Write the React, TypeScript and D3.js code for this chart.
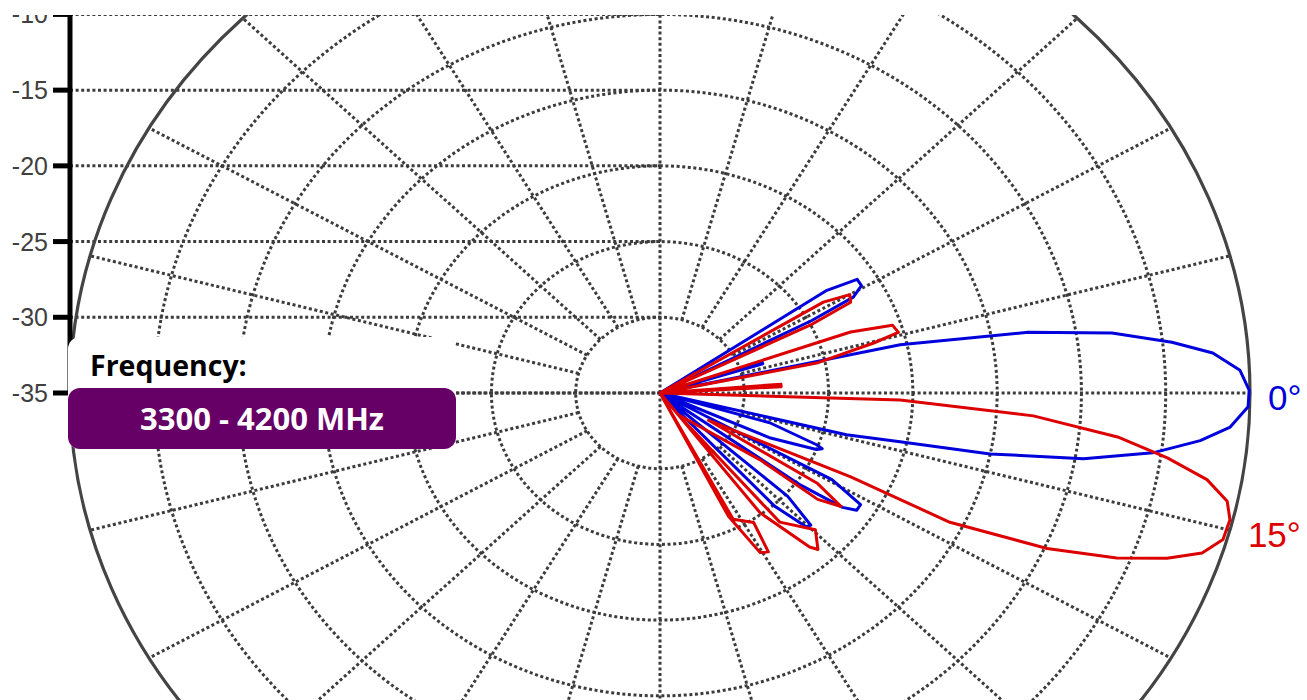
import React from "react";
import * as d3 from "d3";

// ---- data (angle in degrees, positive = below horizon; gain in dB) ----
const blueAngle = [-36, -34.4, -32.7, -30.7, -28.9, -28.0, -26, -18.4, -17.6, -16, -13.5, -12.6, -10.4, -8.4, -6.3, -4.6, -2.5, -0.3, 1.5, 3.8, 5.6, 7.7, 9.8, 11.6, 12.75, 14.0, 15.5, 16.8, 20.2, 20.9, 21.9, 24.4, 26, 29.3, 31.8, 33.6, 34.9, 36.1, 38, 42.0, 44.3, 45.5, 47.7, 50];
const blueDb = [-35, -23.0, -21.1, -21.1, -21.9, -24.8, -35, -28.6, -28.6, -35, -35, -20.4, -12.8, -7.9, -4.45, -2.1, -0.56, -0.05, -0.1, -1.1, -2.8, -5.5, -9.5, -15.0, -20.4, -23.6, -35, -28.2, -25.1, -24.7, -25.0, -27.8, -35, -23.3, -21.0, -21.0, -21.8, -24.7, -35, -24.8, -22.5, -22.6, -24.9, -35];

const redAngle = [-34, -31.75, -30.0, -27.9, -26.7, -25, -21, -19.6, -18.0, -15.8, -14.6, -12.0, -10, -4.6, -3.3, 0, 1.85, 3.9, 6.1, 8.1, 10.0, 12.0, 13.9, 16.15, 18.2, 19.95, 21.9, 24.1, 26.4, 26.1, 32.0, 32.6, 34.9, 36.9, 36.6, 53.0, 50.2, 44.4, 47.8, 48.9, 53.1, 55, 62.5, 57.0, 58.5, 60.6, 63.5, 66];
const redDb = [-35, -23.6, -22.0, -22.2, -25.0, -35, -35, -23.0, -20.5, -20.3, -21.9, -25.5, -35, -27.8, -27.8, -35, -20.75, -12.8, -7.7, -4.6, -2.05, -0.6, -0.17, -0.23, -1.15, -3.0, -5.8, -9.85, -15.8, -22.4, -31.6, -23.9, -21.9, -23.3, -27.6, -33.2, -23.9, -22.1, -21.05, -21.5, -25.1, -35, -25.6, -24.8, -22.7, -22.9, -25.9, -35];

const radialTicks = [-35, -30, -25, -20, -15, -10];
const ringLevels = [-30, -25, -20, -15, -10, -5];
const outerLevel = 0;
const series = [
  { name: "0°", angle: blueAngle, db: blueDb, color: "#0000dd" },
  { name: "15°", angle: redAngle, db: redDb, color: "#dd0000" },
];
const seriesLabels = [
  { text: "0°", color: "#0000dd", angle: 0 },
  { text: "15°", color: "#dd0000", angle: 15 },
];
const freqTitle = "Frequency:";
const freqValue = "3300 - 4200 MHz";

const W = 1307;
const H = 700;

export default function App() {
  const cx = 660;
  const cy = 393;
  const RX = 590;
  const RY = 530;
  const r = d3.scaleLinear().domain([-35, outerLevel]).range([0, 1]).clamp(true);
  const yAxis = d3.scaleLinear().domain([-35, outerLevel]).range([cy, cy - RY]);
  const rad = (deg: number) => (deg * Math.PI) / 180;
  const px = (deg: number, v: number) => cx + RX * r(v) * Math.cos(rad(deg));
  const py = (deg: number, v: number) => cy + RY * r(v) * Math.sin(rad(deg));

  const grid = "#3c3c3c";
  const dots = "3 2.6";
  const gw = 3;
  const spokes = d3.range(0, 360, 15);

  const line = d3
    .line<[number, number]>()
    .x((d) => px(d[0], d[1]))
    .y((d) => py(d[0], d[1]));

  const axisX = 70;

  return (
    <svg
      width={W}
      height={H}
      style={{ position: "absolute", left: 0, top: 0, background: "#fff" }}
    >
      <defs>
        <clipPath id="clipTop">
          <rect x={0} y={15} width={W} height={H} />
        </clipPath>
      </defs>
      <g clipPath="url(#clipTop)">
        {radialTicks.map((t) => (
          <line
            key={"h" + t}
            x1={axisX}
            x2={cx}
            y1={yAxis(t)}
            y2={yAxis(t)}
            stroke={grid}
            strokeWidth={gw}
            strokeDasharray={dots}
          />
        ))}
        {ringLevels.map((lv) => (
          <ellipse
            key={"r" + lv}
            cx={cx}
            cy={cy}
            rx={RX * r(lv)}
            ry={RY * r(lv)}
            fill="none"
            stroke={grid}
            strokeWidth={gw}
            strokeDasharray={dots}
          />
        ))}
        {spokes.map((a) => {
          const start = a % 90 === 0 ? -35 : ringLevels[0];
          return (
            <line
              key={"s" + a}
              x1={px(a, start)}
              y1={py(a, start)}
              x2={px(a, outerLevel)}
              y2={py(a, outerLevel)}
              stroke={grid}
              strokeWidth={gw}
              strokeDasharray={dots}
            />
          );
        })}
        <ellipse cx={cx} cy={cy} rx={RX} ry={RY} fill="none" stroke="#444" strokeWidth={3.2} />

        {series.map((s) => (
          <path
            key={s.name}
            d={line(s.angle.map((a, i) => [a, s.db[i]] as [number, number])) || ""}
            fill="none"
            stroke={s.color}
            strokeWidth={3}
            strokeLinejoin="round"
          />
        ))}

        <line x1={axisX} x2={axisX} y1={yAxis(-10) - 20} y2={cy} stroke="#000" strokeWidth={5} />
        {radialTicks.map((t) => (
          <g key={"t" + t}>
            <line x1={53} x2={axisX} y1={yAxis(t)} y2={yAxis(t)} stroke="#000" strokeWidth={5} />
            <text
              x={48}
              y={yAxis(t) + 9}
              textAnchor="end"
              fontFamily="Liberation Sans, Arial, sans-serif"
              fontSize={25}
              fill="#404040"
            >
              {t}
            </text>
          </g>
        ))}
      </g>

      {seriesLabels.map((l) => (
        <text
          key={l.text}
          x={px(l.angle, outerLevel) + 18}
          y={py(l.angle, outerLevel) + 17}
          fontFamily="Liberation Sans, Arial, sans-serif"
          fontSize={35}
          fill={l.color}
        >
          {l.text}
        </text>
      ))}

      <rect x={68} y={337} width={388} height={112} rx={12} fill="#fff" />
      <text
        x={90}
        y={376}
        fontFamily="Open Sans, sans-serif"
        fontWeight={700}
        fontSize={28.5}
        fill="#000"
      >
        {freqTitle}
      </text>
      <rect x={68} y={388} width={388} height={61} rx={12} fill="#660066" />
      <text
        x={262}
        y={430}
        textAnchor="middle"
        fontFamily="Open Sans, sans-serif"
        fontWeight={700}
        fontSize={31}
        fill="#fff"
      >
        {freqValue}
      </text>
    </svg>
  );
}
